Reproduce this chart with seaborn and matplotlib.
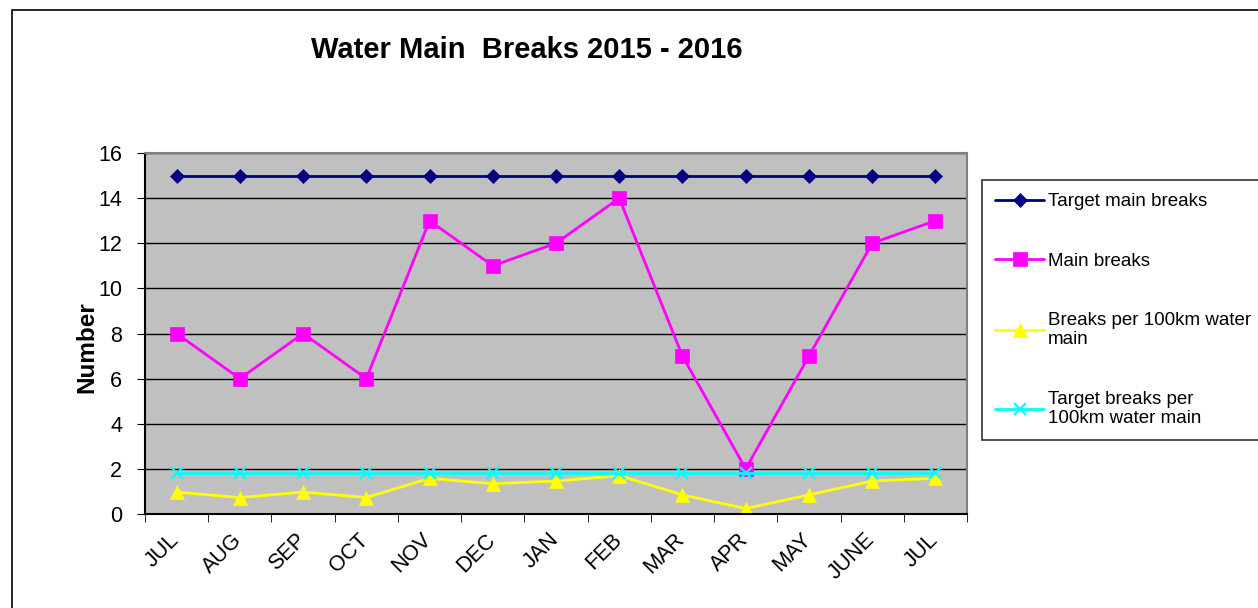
import matplotlib
matplotlib.use("Agg")
import matplotlib.pyplot as plt
import matplotlib.transforms as mtransforms
import seaborn as sns
import pandas as pd
import numpy as np
from matplotlib.patches import Rectangle

months = ["JUL", "AUG", "SEP", "OCT", "NOV", "DEC", "JAN", "FEB", "MAR", "APR", "MAY", "JUNE", "JUL"]
target_main = [15, 15, 15, 15, 15, 15, 15, 15, 15, 15, 15, 15, 15]
main_breaks = [8, 6, 8, 6, 13, 11, 12, 14, 7, 2, 7, 12, 13]
breaks_per_100km = [0.97, 0.73, 0.97, 0.73, 1.58, 1.34, 1.46, 1.70, 0.85, 0.24, 0.85, 1.46, 1.58]
target_per_100km = [1.82] * 13

series_names = ["Target main breaks", "Main breaks", "Breaks per 100km water\nmain", "Target breaks per\n100km water main"]
series_values = [target_main, main_breaks, breaks_per_100km, target_per_100km]
colors = ["#000080", "#FF00FF", "#FFFF00", "#00FFFF"]
markers = ["D", "s", "^", "x"]
msizes = [7, 10, 10, 9]

sns.set_style("white")
plt.rcParams['font.family'] = ['Liberation Sans', 'DejaVu Sans']
plt.rcParams['text.color'] = 'black'
plt.rcParams['axes.labelcolor'] = 'black'
plt.rcParams['xtick.color'] = 'black'
plt.rcParams['ytick.color'] = 'black'

fig = plt.figure(figsize=(12.58, 6.08), dpi=100)
ax = fig.add_axes([145/1258, 94/608, 822/1258, 361/608])
ax.set_facecolor("#C0C0C0")

x = np.arange(len(months))
handles = []
for name, vals, c, m, ms in zip(series_names, series_values, colors, markers, msizes):
    df = pd.DataFrame({"x": x, "y": vals})
    sns.lineplot(data=df, x="x", y="y", ax=ax, color=c, marker=m, markersize=ms,
                 markeredgecolor=c, markeredgewidth=1.5 if m == "x" else 0.5, linewidth=2,
                 label=name, legend=False)
    handles.append(ax.lines[-1])

ax.set_xlim(-0.5, len(months) - 0.5)
ax.set_ylim(0, 16)
ax.set_yticks(range(0, 17, 2))
ax.yaxis.grid(True, color="black", linewidth=1)
ax.set_axisbelow(True)
ax.tick_params(axis="y", labelsize=15.5, length=6, color="black", direction="out", left=True, pad=10.5)
ax.set_xticks(x)
ax.set_xticklabels(months, rotation=45, fontsize=15.5, ha="right", va="top", rotation_mode="anchor")
ax.tick_params(axis="x", length=0, pad=11)
ax.set_xticks(np.arange(-0.5, len(months)), minor=True)
ax.tick_params(axis="x", which="minor", length=6, color="black", bottom=True)
ax.set_xlabel("")
ax.set_ylabel("Number", fontsize=17.5, fontweight="bold")
ax.yaxis.set_label_coords(-0.057, 0.463)
for s in ax.spines.values():
    s.set_color("#808080")
    s.set_linewidth(1.5)
ax.spines["left"].set_color("black")
ax.spines["bottom"].set_color("black")

offset = mtransforms.ScaledTranslation(-6/72, 0, fig.dpi_scale_trans)
for lbl in ax.get_xticklabels():
    lbl.set_transform(lbl.get_transform() + offset)

fig.text(527/1258, 1 - 50/608, "Water Main  Breaks 2015 - 2016", ha="center", va="center",
         fontsize=21, fontweight="bold")

leg = fig.legend(handles=handles, labels=series_names, loc="upper left",
                 bbox_to_anchor=(982/1258, 1 - 180/608), fontsize=13.5, frameon=True,
                 fancybox=False, edgecolor="black", labelspacing=2.25, handlelength=2.6,
                 handletextpad=0.2, borderpad=0.7, borderaxespad=0)
leg.get_frame().set_linewidth(1.2)

fig.patches.append(Rectangle((12/1258, -0.1), 1.2, 1 - 10/608 + 0.1, transform=fig.transFigure,
                             fill=False, edgecolor="black", linewidth=1.2, zorder=0))

fig.savefig("out.png", dpi=100)
